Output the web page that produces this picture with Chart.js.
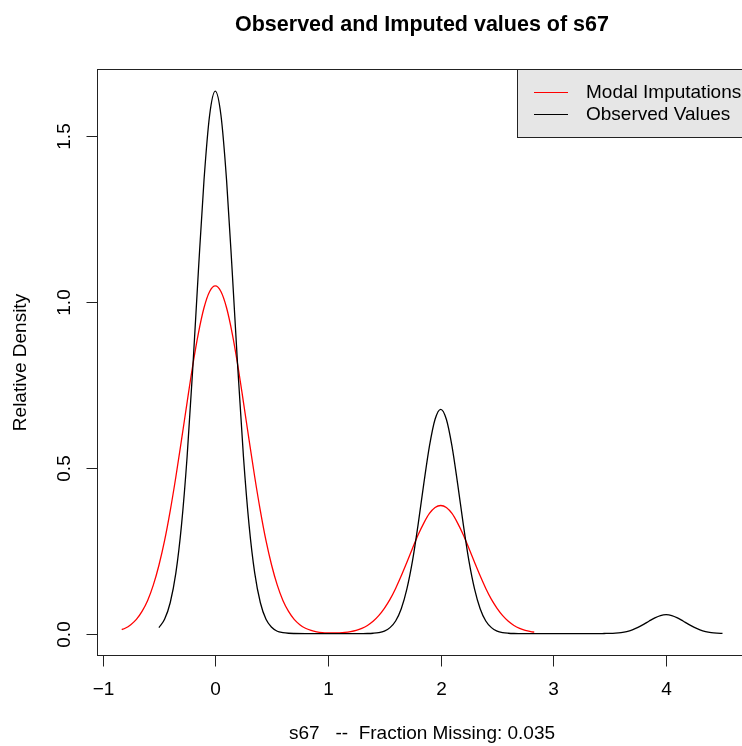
<!DOCTYPE html>
<html>
<head>
<meta charset="utf-8">
<title>Observed and Imputed values of s67</title>
<script src="https://cdn.jsdelivr.net/npm/chart.js@4.4.1/dist/chart.umd.min.js"></script>
<style>
    html, body { margin: 0; padding: 0; background: #ffffff; overflow: hidden; }
    #wrap { width: 742px; height: 746px; overflow: hidden; }
    canvas { display: block; background: #ffffff; }
</style>
</head>
<body>
<div id="wrap"><canvas id="densityChart" width="750" height="746"></canvas></div>
<script>
// Observed values density (black)
const observedX = [-0.5, -0.45, -0.4, -0.35, -0.3, -0.25, -0.2, -0.15, -0.1, -0.05, 0,
    0.05, 0.1, 0.15, 0.2, 0.25, 0.3, 0.35, 0.4, 0.45, 0.5, 0.55, 0.6, 0.65, 0.7, 0.8,
    1.0, 1.2, 1.3, 1.35, 1.4, 1.45, 1.5, 1.55, 1.6, 1.65, 1.7, 1.75, 1.8, 1.85, 1.9, 1.95,
    2.0, 2.05, 2.1, 2.15, 2.2, 2.25, 2.3, 2.35, 2.4, 2.45, 2.5, 2.55, 2.6, 2.65, 2.7, 2.8,
    3.0, 3.2, 3.4, 3.45, 3.5, 3.55, 3.6, 3.65, 3.7, 3.75, 3.8, 3.85, 3.9, 3.95,
    4.0, 4.05, 4.1, 4.15, 4.2, 4.25, 4.3, 4.35, 4.4, 4.45, 4.5];
const observedY = [0.018, 0.043, 0.093, 0.182, 0.326, 0.533, 0.798, 1.092, 1.367, 1.563, 1.635,
    1.563, 1.367, 1.092, 0.798, 0.533, 0.326, 0.182, 0.093, 0.043, 0.019, 0.007, 0.003, 0.001, 0.0003, 0,
    0, 0, 0.0001, 0.0003, 0.0011, 0.003, 0.0076, 0.018, 0.038, 0.075, 0.135, 0.220, 0.330, 0.452, 0.565, 0.646,
    0.676, 0.646, 0.565, 0.452, 0.330, 0.220, 0.135, 0.075, 0.038, 0.018, 0.0076, 0.003, 0.0011, 0.0003, 0.0001, 0,
    0, 0, 0, 0.0003, 0.0006, 0.0015, 0.0032, 0.0063, 0.0114, 0.0186, 0.0278, 0.0381, 0.0476, 0.0545,
    0.057, 0.0545, 0.0476, 0.0381, 0.0278, 0.0186, 0.0114, 0.0063, 0.0032, 0.0015, 0.0006];

// Modal imputations density (red)
const imputedX = [-0.83, -0.8, -0.75, -0.7, -0.65, -0.6, -0.55, -0.5, -0.45, -0.4, -0.35, -0.3,
    -0.25, -0.2, -0.15, -0.1, -0.05, 0, 0.05, 0.1, 0.15, 0.2, 0.25, 0.3, 0.35, 0.4, 0.45,
    0.5, 0.55, 0.6, 0.65, 0.7, 0.75, 0.8, 0.85, 0.9, 0.95, 1.0, 1.05, 1.1, 1.15, 1.2, 1.25,
    1.3, 1.35, 1.4, 1.45, 1.5, 1.55, 1.6, 1.65, 1.7, 1.75, 1.8, 1.85, 1.9, 1.95, 2.0,
    2.05, 2.1, 2.15, 2.2, 2.25, 2.3, 2.35, 2.4, 2.45, 2.5, 2.55, 2.6, 2.65, 2.7, 2.75, 2.8, 2.83];
const imputedY = [0.012, 0.016, 0.027, 0.043, 0.067, 0.100, 0.146, 0.206, 0.280, 0.370, 0.472, 0.583,
    0.697, 0.808, 0.905, 0.982, 1.031, 1.048, 1.031, 0.982, 0.905, 0.808, 0.697, 0.583, 0.472, 0.370, 0.280,
    0.206, 0.146, 0.100, 0.067, 0.043, 0.027, 0.016, 0.0095, 0.0055, 0.0032, 0.0022, 0.0019, 0.0024, 0.0037, 0.0061, 0.0099,
    0.0159, 0.0246, 0.037, 0.054, 0.076, 0.103, 0.136, 0.174, 0.215, 0.257, 0.298, 0.333, 0.362, 0.380, 0.386,
    0.380, 0.362, 0.333, 0.298, 0.257, 0.215, 0.174, 0.136, 0.103, 0.076, 0.054, 0.037, 0.0246, 0.0159, 0.0099, 0.006, 0.0043];

// Axis ticks and labels
const xTicks = [-1, 0, 1, 2, 3, 4];
const yTicks = [0, 0.5, 1, 1.5];
const yTickLabels = ['0.0', '0.5', '1.0', '1.5'];

const legendLabels = ['Modal Imputations', 'Observed Values'];
const legendColors = ['#ff0000', '#000000'];

const FONT = '"Liberation Sans", Arial, sans-serif';

function toPoints(xs, ys) {
    return xs.map((x, i) => ({ x: x, y: ys[i] }));
}

/**
 * Draw the R style frame: box, axes, titles and legend
 */
const rFrame = {
    id: 'rFrame',
    afterDraw(chart) {
        const ctx = chart.ctx;
        const area = chart.chartArea;
        const xScale = chart.scales.x;
        const yScale = chart.scales.y;

        ctx.save();
        ctx.strokeStyle = '#222222';
        ctx.lineWidth = 1;
        ctx.fillStyle = '#000000';

        // plot box
        ctx.strokeRect(area.left, area.top, area.right - area.left, area.bottom - area.top);

        // x axis ticks + labels
        ctx.font = '19px ' + FONT;
        ctx.textAlign = 'center';
        ctx.textBaseline = 'middle';
        xTicks.forEach(t => {
            const px = Math.round(xScale.getPixelForValue(t)) + 0.5;
            ctx.beginPath();
            ctx.moveTo(px, area.bottom);
            ctx.lineTo(px, area.bottom + 11);
            ctx.stroke();
            ctx.fillText(t < 0 ? '\u22121' : String(t), px, area.bottom + 34);
        });

        // y axis ticks + rotated labels
        yTicks.forEach((t, i) => {
            const py = Math.round(yScale.getPixelForValue(t)) + 0.5;
            ctx.beginPath();
            ctx.moveTo(area.left, py);
            ctx.lineTo(area.left - 11, py);
            ctx.stroke();
            ctx.save();
            ctx.translate(area.left - 33, py);
            ctx.rotate(-Math.PI / 2);
            ctx.fillText(yTickLabels[i], 0, 0);
            ctx.restore();
        });

        // title
        const midX = (area.left + area.right) / 2;
        ctx.font = 'bold 21.5px ' + FONT;
        ctx.fillText('Observed and Imputed values of s67', midX, 25);

        // axis titles
        ctx.font = '19px ' + FONT;
        ctx.fillText('s67   --  Fraction Missing: 0.035', midX, 734);
        ctx.save();
        ctx.translate(21, (area.top + area.bottom) / 2);
        ctx.rotate(-Math.PI / 2);
        ctx.fillText('Relative Density', 0, 0);
        ctx.restore();

        // legend (topright, grey background)
        const lx = 517.5;
        const ly = area.top;
        ctx.fillStyle = '#e6e6e6';
        ctx.fillRect(lx, ly, area.right - lx, 68);
        ctx.strokeRect(lx, ly, area.right - lx, 68);
        ctx.textAlign = 'left';
        legendLabels.forEach((label, i) => {
            const rowY = ly + 23 + i * 22;
            ctx.strokeStyle = legendColors[i];
            ctx.beginPath();
            ctx.moveTo(534, rowY);
            ctx.lineTo(568, rowY);
            ctx.stroke();
            ctx.fillStyle = '#000000';
            ctx.fillText(label, 586, rowY);
        });

        ctx.restore();
    }
};

new Chart(document.getElementById('densityChart'), {
    type: 'line',
    data: {
        datasets: [
            {
                label: 'Observed Values',
                data: toPoints(observedX, observedY),
                borderColor: '#000000',
                borderWidth: 1.3,
                pointRadius: 0,
                cubicInterpolationMode: 'monotone',
                fill: false
            },
            {
                label: 'Modal Imputations',
                data: toPoints(imputedX, imputedY),
                borderColor: '#ff0000',
                borderWidth: 1.3,
                pointRadius: 0,
                cubicInterpolationMode: 'monotone',
                fill: false
            }
        ]
    },
    options: {
        responsive: false,
        animation: false,
        devicePixelRatio: 1,
        layout: {
            padding: { left: 97.5, top: 69.5, right: 3.5, bottom: 90.5 }
        },
        scales: {
            x: { type: 'linear', min: -1.045, max: 4.713, display: false },
            y: { type: 'linear', min: -0.066, max: 1.70, display: false }
        },
        plugins: {
            legend: { display: false },
            tooltip: { enabled: false }
        }
    },
    plugins: [rFrame]
});
</script>
</body>
</html>
